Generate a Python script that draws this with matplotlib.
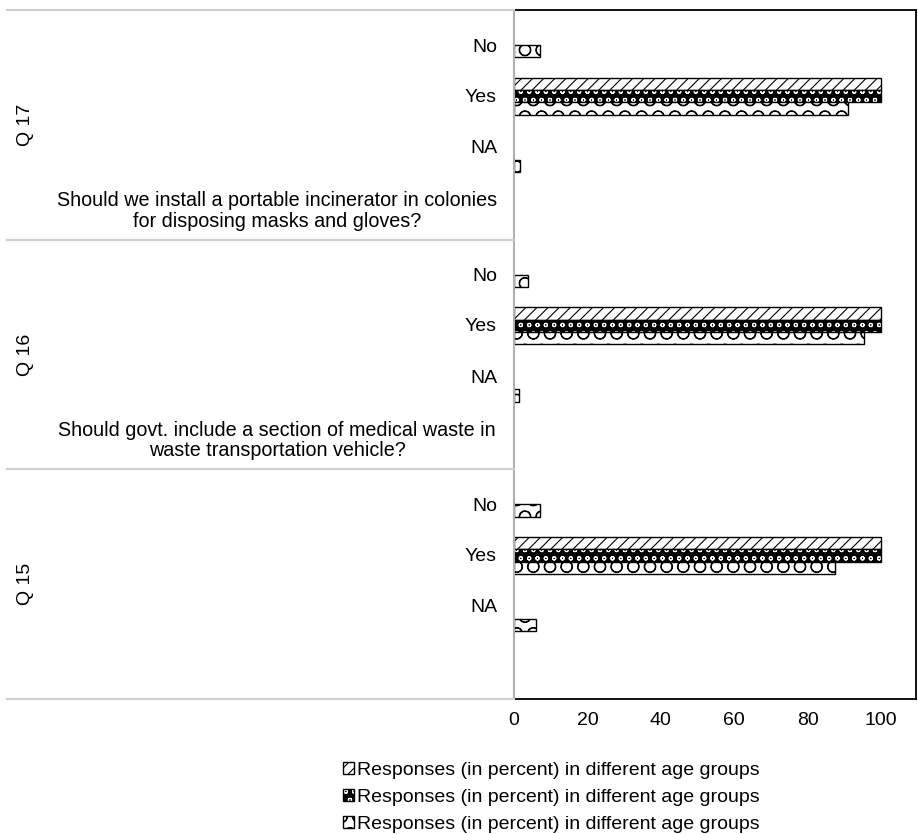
import matplotlib
matplotlib.use("Agg")
import matplotlib.pyplot as plt
import matplotlib.transforms as mtransforms
from matplotlib.patches import Patch

plt.rcParams['font.family'] = ['Liberation Sans', 'DejaVu Sans']
plt.rcParams['hatch.linewidth'] = 0.8

# Dados (percentual)
grupos = ["Q 17", "Q 16", "Q 15"]
perguntas = ["Should we install a portable incinerator in colonies\nfor disposing masks and gloves?",
             "Should govt. include a section of medical waste in\nwaste transportation vehicle?",
             ""]
respostas = ["No", "Yes", "NA"]
serie_1 = [[0, 100, 0], [0, 100, 0], [0, 100, 0]]
serie_2 = [[0, 100, 0], [0, 100, 0], [0, 100, 0]]
serie_3 = [[7, 91, 1.6], [3.7, 95.4, 1.3], [7, 87.4, 6.1]]
rotulo = "Responses (in percent) in different age groups"

fig = plt.figure(figsize=(9.18, 8.34), dpi=100)
W, H = 918, 834
x0, x1, y0, y1 = 514, 916, 10, 699
ax = fig.add_axes([x0/W, 1 - y1/H, (x1 - x0)/W, (y1 - y0)/H])

n_slot = 4
altura = 0.215
series = [serie_1, serie_2, serie_3]
offs = [-altura, 0, altura]

def estilo(s):
    # retorna lista de kwargs (camadas) para cada série
    if s == 0:
        return [dict(facecolor="white", edgecolor="black", hatch="///", linewidth=1.0)]
    if s == 1:
        return [dict(facecolor="black", edgecolor="white", hatch="oo", linewidth=0),
                dict(fill=False, edgecolor="black", linewidth=1.0)]
    return [dict(facecolor="white", edgecolor="black", hatch="O", linewidth=1.0)]

for g in range(len(grupos)):
    for k in range(len(respostas)):
        y = g*n_slot + k
        for s, serie in enumerate(series):
            v = serie[g][k]
            if v > 0:
                for kw in estilo(s):
                    ax.barh(y + offs[s], v, height=altura, **kw)

ax.set_ylim(len(grupos)*n_slot - 0.5, -0.5)
ax.set_xlim(0, 109.5)
ax.set_xticks([0, 20, 40, 60, 80, 100])
ax.set_yticks([])
ax.tick_params(axis="x", length=0, labelsize=14, pad=9.5)
for lado in ["top", "right", "bottom"]:
    ax.spines[lado].set_color("black")
    ax.spines[lado].set_linewidth(1.3)
ax.spines["left"].set_color("#b0b0b0")
ax.spines["left"].set_linewidth(1.5)

# rótulos de categorias à esquerda
trans = mtransforms.blended_transform_factory(fig.transFigure, ax.transData)
pos_rotulo = [0.15, 1.02, 1.91]
for g in range(len(grupos)):
    for k, r in enumerate(respostas):
        fig.text(497/W, g*n_slot + pos_rotulo[k], r, transform=trans,
                 ha="right", va="center", fontsize=14)
    if perguntas[g]:
        fig.text(277/W, g*n_slot + 3, perguntas[g], transform=trans,
                 ha="center", va="center", fontsize=14.2, linespacing=1.1)
    fig.text(25/W, g*n_slot + 1.5, grupos[g], transform=trans, rotation=90,
             ha="center", va="center", fontsize=14)

# linhas separadoras
for g in range(len(grupos) + 1):
    yl = g*n_slot - 0.5
    fig.add_artist(plt.Line2D([7/W, x0/W], [yl, yl], transform=trans,
                              color="#d0d0d0", linewidth=1.5))

handles = []
for s in range(3):
    camadas = tuple(Patch(**kw) for kw in estilo(s))
    handles.append(camadas if len(camadas) > 1 else camadas[0])
fig.legend(handles, [rotulo]*3, loc="upper left", bbox_to_anchor=(343/W, 1 - 762/H),
           frameon=False, fontsize=14, handlelength=0.56, handleheight=0.56,
           handletextpad=0.17, labelspacing=0.52, borderpad=0, borderaxespad=0)

fig.savefig("out.png", dpi=100)
